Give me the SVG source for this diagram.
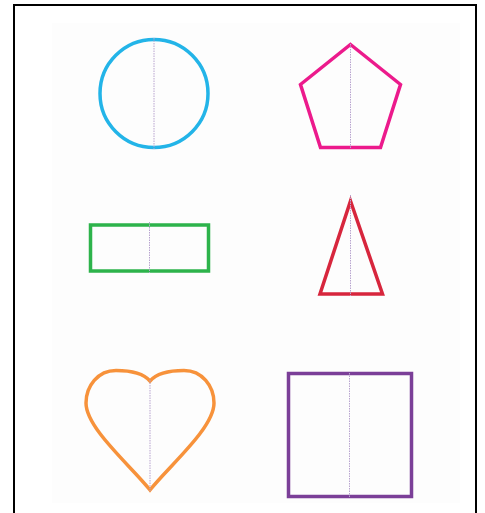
<svg xmlns="http://www.w3.org/2000/svg" width="485" height="513" viewBox="0 0 485 513">
<style>
.shape{fill:none;stroke-width:3.5;stroke-linejoin:miter}
.mid{stroke:#b8a4cf;stroke-width:1;stroke-dasharray:1.5 1;fill:none}
</style>
<rect x="0" y="0" width="485" height="513" fill="#ffffff"/>
<rect x="52" y="23" width="408" height="480" fill="#fdfdfd"/>
<path d="M14,520 V5 H476 V520" fill="none" stroke="#000" stroke-width="2"/>
<g id="circle">
<circle class="shape" cx="154" cy="93.5" r="54" stroke="#23b4e8"/>
<line class="mid" x1="154" y1="38" x2="154" y2="149"/>
</g>
<g id="pentagon">
<polygon class="shape" points="350.5,44.5 400.5,84.5 380.5,147.5 320.5,147.5 300.5,84.5" stroke="#ec1a8c"/>
<line class="mid" x1="350.5" y1="44" x2="350.5" y2="149"/>
</g>
<g id="rectangle">
<rect class="shape" x="90.5" y="225" width="118" height="46" stroke="#2db34b" stroke-width="4"/>
<line class="mid" x1="149.5" y1="222" x2="149.5" y2="273"/>
</g>
<g id="triangle">
<polygon class="shape" points="350.5,201 382.5,294 320,294" stroke="#d7263d"/>
<line class="mid" x1="350.5" y1="195" x2="350.5" y2="296"/>
</g>
<g id="heart">
<path class="shape" d="M150,381 C143,373 131,370.5 116,370.5 C98,370.5 86,386 86,403 C86,428 130,465 150,490 C170,465 214,428 214,403 C214,386 202,370.5 184,370.5 C169,370.5 157,373 150,381 Z" stroke="#f7923b"/>
<line class="mid" x1="150" y1="380" x2="150" y2="491"/>
</g>
<g id="square">
<rect class="shape" x="288.5" y="373.5" width="123" height="123" stroke="#7b3f98" stroke-width="4"/>
<line class="mid" x1="349.5" y1="373" x2="349.5" y2="497"/>
</g>
</svg>
